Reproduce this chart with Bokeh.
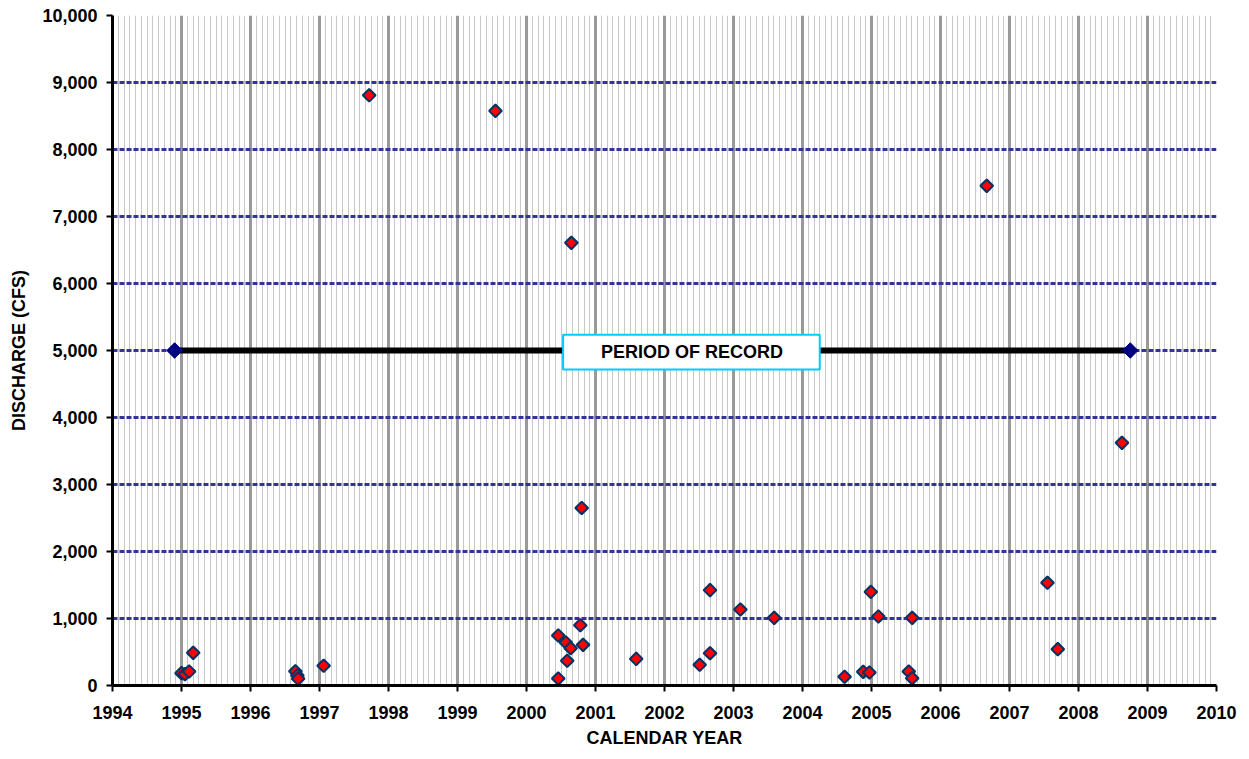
import math
from bokeh.plotting import figure
from bokeh.models import FixedTicker, NumeralTickFormatter, Label, Range1d
from bokeh.embed import file_html
from bokeh.resources import INLINE

# ---- data ----
sample_years = [1995.00, 1995.05, 1995.11, 1995.17, 1996.65, 1996.68, 1996.69,
                1997.06, 1997.72, 1999.55, 2000.46, 2000.46, 2000.57, 2000.59,
                2000.64, 2000.65, 2000.78, 2000.82, 2000.80, 2001.59, 2002.51,
                2002.66, 2002.66, 2003.10, 2003.59, 2004.61, 2004.88, 2004.97,
                2004.99, 2005.10, 2005.54, 2005.59, 2005.59, 2006.67, 2007.55,
                2007.70, 2008.63]
discharge_cfs = [184, 169, 209, 488, 213, 150, 100,
                 294, 8810, 8576, 746, 104, 642, 369,
                 557, 6607, 900, 607, 2650, 398, 309,
                 482, 1423, 1134, 1010, 130, 204, 194,
                 1398, 1030, 209, 1010, 109, 7458, 1533,
                 542, 3622]
period_years = [1994.9, 2008.75]
period_value = [5000, 5000]
period_label = "PERIOD OF RECORD"
year_ticks = list(range(1994, 2011))
month_ticks = [y + m / 12 for y in range(1994, 2010) for m in range(1, 12)]
y_ticks = list(range(0, 10001, 1000))

FONT = "Liberation Sans"

p = figure(width=1240, height=755, output_backend="svg", toolbar_location=None,
           x_range=Range1d(1994, 2010), y_range=Range1d(0, 10000),
           min_border_left=112, min_border_right=24, min_border_top=15,
           min_border_bottom=70)
p.outline_line_color = None
p.background_fill_color = "white"
p.border_fill_color = "white"

xt = FixedTicker(ticks=year_ticks, minor_ticks=month_ticks)
yt = FixedTicker(ticks=y_ticks)
p.xaxis.ticker = xt
p.yaxis.ticker = yt
p.xgrid.ticker = xt
p.ygrid.ticker = yt
p.yaxis.formatter = NumeralTickFormatter(format="0,0")

p.xgrid.grid_line_color = "#999999"
p.xgrid.grid_line_width = 3
p.xgrid.minor_grid_line_color = "#c8c8c8"
p.xgrid.minor_grid_line_width = 1
p.ygrid.grid_line_color = "#333399"
p.ygrid.grid_line_width = 3
p.ygrid.grid_line_dash = "5 2"

for ax in (p.xaxis[0], p.yaxis[0]):
    ax.axis_line_color = "black"
    ax.axis_line_width = 3
    ax.major_tick_line_color = "black"
    ax.major_tick_line_width = 2
    ax.major_tick_in = 0
    ax.major_tick_out = 6
    ax.minor_tick_line_color = None
    ax.major_label_text_font = FONT
    ax.major_label_text_font_style = "bold"
    ax.major_label_text_font_size = "18px"
    ax.major_label_text_color = "black"
    ax.axis_label_text_font = FONT
    ax.axis_label_text_font_style = "bold"
    ax.axis_label_text_font_size = "18px"
    ax.axis_label_text_color = "black"

p.xaxis.axis_label = "CALENDAR YEAR"
p.yaxis.axis_label = "DISCHARGE (CFS)"
p.xaxis.major_label_standoff = 14
p.xaxis.axis_label_standoff = 6
p.yaxis.major_label_standoff = 9
p.yaxis.axis_label_standoff = 10

# period of record line
p.line(period_years, period_value, line_color="black", line_width=6)
p.scatter(period_years, period_value, marker="square", angle=math.pi / 4,
          size=11, fill_color="#000080", line_color="#000080", line_width=1)

# label box
p.quad(left=2000.53, right=2004.25, bottom=4716, top=5234,
       fill_color="white", line_color="#00ccff", line_width=2)
p.add_layout(Label(x=2002.40, y=4975, text=period_label, text_align="center",
                   text_baseline="middle", text_font=FONT, text_font_style="bold",
                   text_font_size="18px", text_color="black"))

# samples
p.scatter(sample_years, discharge_cfs, marker="square", angle=math.pi / 4,
          size=9, fill_color="#ff0000", line_color="#003366", line_width=2)

open("out.html", "w").write(file_html(p, INLINE))
